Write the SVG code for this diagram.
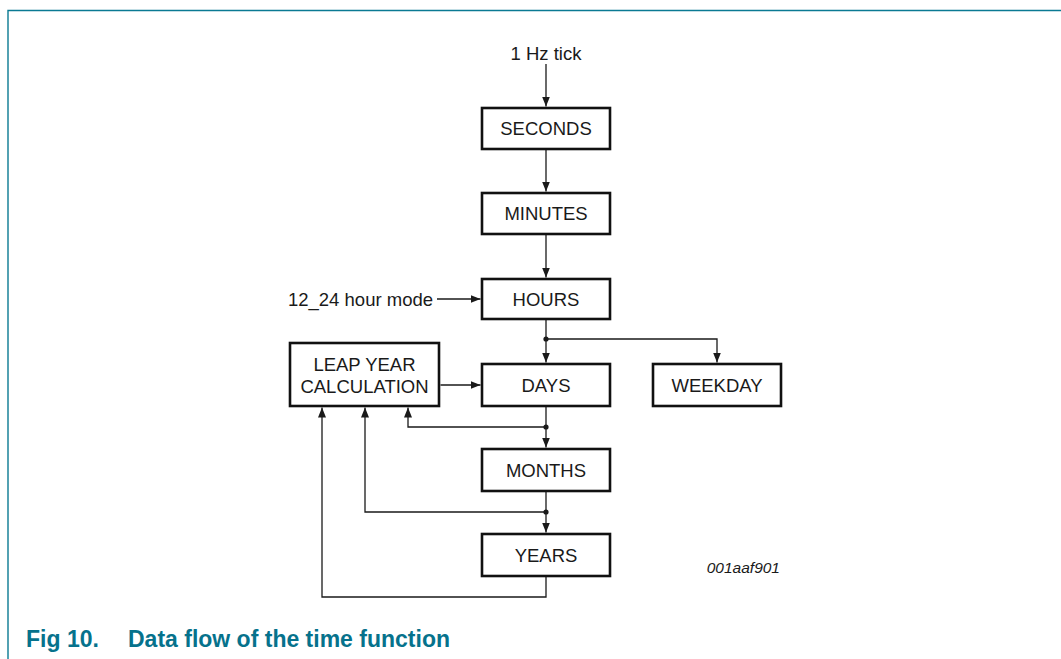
<svg xmlns="http://www.w3.org/2000/svg" width="1061" height="659" viewBox="0 0 1061 659">
  <style>
    .box { fill: #ffffff; stroke: #111111; stroke-width: 2.6; }
    .lbl { font-family: "Liberation Sans", Arial, sans-serif; font-size: 18.5px; fill: #1a1a1a; text-anchor: middle; }
    .conn { fill: none; stroke: #1a1a1a; stroke-width: 1.3; }
    .dot { fill: #1a1a1a; }
    .cap { font-family: "Liberation Sans", Arial, sans-serif; font-size: 23px; font-weight: bold; fill: #06728c; }
  </style>
  <defs>
    <marker id="arr" markerUnits="userSpaceOnUse" markerWidth="10" markerHeight="10" viewBox="0 0 10 10" refX="10" refY="5" orient="auto">
      <path d="M0,1 L10,5 L0,9 Z" fill="#1a1a1a"/>
    </marker>
  </defs>
  <rect x="0" y="0" width="1061" height="659" fill="#ffffff"/>
  <path d="M8 659 V10.5 H1061" fill="none" stroke="#0a7a93" stroke-width="1.4"/>

  <g id="connectors">
    <path class="conn" d="M546 64 V106.5" marker-end="url(#arr)"/>
    <path class="conn" d="M546 150 V191.5" marker-end="url(#arr)"/>
    <path class="conn" d="M546 235 V277.5" marker-end="url(#arr)"/>
    <path class="conn" d="M437 299 H480.5" marker-end="url(#arr)"/>
    <path class="conn" d="M546 320 V362.5" marker-end="url(#arr)"/>
    <path class="conn" d="M546 339 H717 V362.5" marker-end="url(#arr)"/>
    <path class="conn" d="M440.5 385 H480.5" marker-end="url(#arr)"/>
    <path class="conn" d="M546 406 V447.5" marker-end="url(#arr)"/>
    <path class="conn" d="M546 427 H408 V407.5" marker-end="url(#arr)"/>
    <path class="conn" d="M546 491 V532.5" marker-end="url(#arr)"/>
    <path class="conn" d="M546 512 H365 V407.5" marker-end="url(#arr)"/>
    <path class="conn" d="M546 577 V597 H322 V407.5" marker-end="url(#arr)"/>
    <circle class="dot" cx="546" cy="339" r="2.6"/>
    <circle class="dot" cx="546" cy="427" r="2.6"/>
    <circle class="dot" cx="546" cy="512" r="2.6"/>
  </g>

  <g id="input-tick">
    <text class="lbl" x="546" y="60">1 Hz tick</text>
  </g>
  <g id="input-mode">
    <text class="lbl" x="433" y="305.5" style="text-anchor:end">12_24 hour mode</text>
  </g>

  <g id="seconds">
    <rect class="box" x="482" y="108" width="128" height="41"/>
    <text class="lbl" x="546" y="135">SECONDS</text>
  </g>
  <g id="minutes">
    <rect class="box" x="482" y="193" width="128" height="41"/>
    <text class="lbl" x="546" y="220">MINUTES</text>
  </g>
  <g id="hours">
    <rect class="box" x="482" y="279" width="128" height="40"/>
    <text class="lbl" x="546" y="305.5">HOURS</text>
  </g>
  <g id="days">
    <rect class="box" x="482" y="364" width="128" height="42"/>
    <text class="lbl" x="546" y="391.5">DAYS</text>
  </g>
  <g id="weekday">
    <rect class="box" x="653" y="364" width="128" height="42"/>
    <text class="lbl" x="717" y="391.5">WEEKDAY</text>
  </g>
  <g id="leap-year">
    <rect class="box" x="290" y="343" width="149" height="63"/>
    <text class="lbl" x="364.5" y="370.5">LEAP YEAR</text>
    <text class="lbl" x="364.5" y="392.5">CALCULATION</text>
  </g>
  <g id="months">
    <rect class="box" x="482" y="449" width="128" height="42"/>
    <text class="lbl" x="546" y="476.5">MONTHS</text>
  </g>
  <g id="years">
    <rect class="box" x="482" y="534" width="128" height="42"/>
    <text class="lbl" x="546" y="561.5">YEARS</text>
  </g>

  <text x="780" y="573" style="font-family:'Liberation Sans', Arial, sans-serif; font-size:15.5px; font-style:italic; fill:#1a1a1a; text-anchor:end">001aaf901</text>

  <text class="cap" x="26" y="647">Fig 10.</text>
  <text class="cap" x="128" y="647">Data flow of the time function</text>
</svg>
